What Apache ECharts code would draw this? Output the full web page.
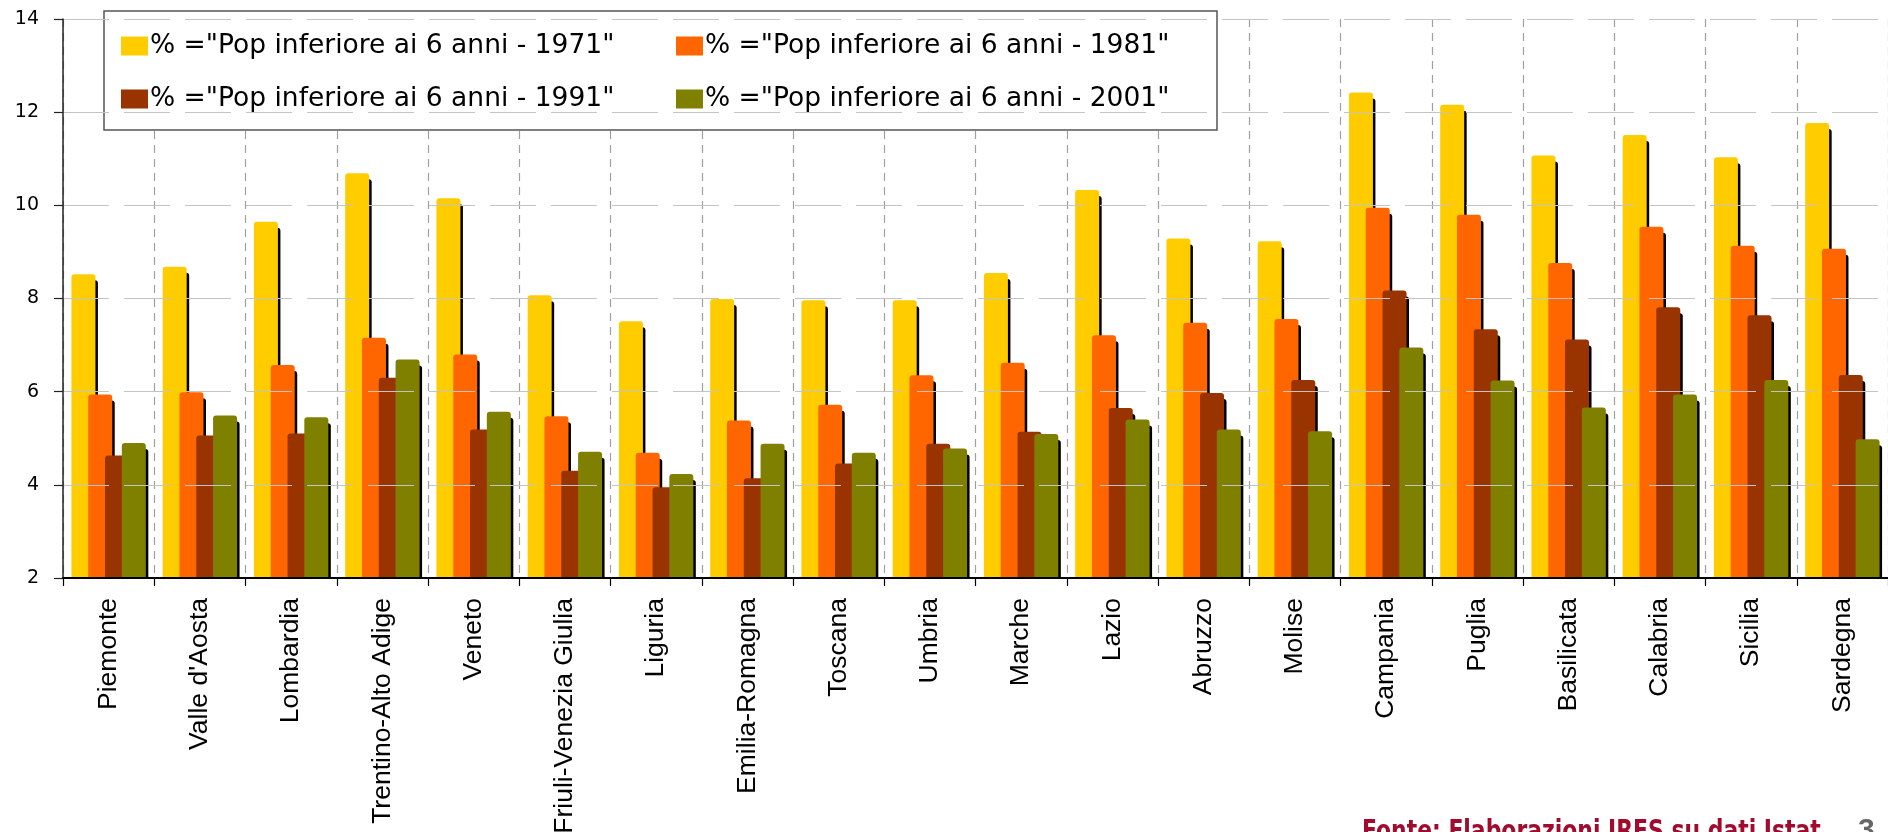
<!DOCTYPE html>
<html>
<head>
<meta charset="utf-8">
<script src="https://cdn.jsdelivr.net/npm/echarts@6/dist/echarts.min.js"></script>
<style>
html,body{margin:0;padding:0;background:#fff;}
#c{width:1888px;height:832px;}
</style>
</head>
<body>
<div id="c"></div>
<script>
const categories = ['Piemonte', "Valle d'Aosta", 'Lombardia', 'Trentino-Alto Adige', 'Veneto', 'Friuli-Venezia Giulia', 'Liguria', 'Emilia-Romagna', 'Toscana', 'Umbria', 'Marche', 'Lazio', 'Abruzzo', 'Molise', 'Campania', 'Puglia', 'Basilicata', 'Calabria', 'Sicilia', 'Sardegna'];
const seriesNames = ['% ="Pop inferiore ai 6 anni - 1971"', '% ="Pop inferiore ai 6 anni - 1981"', '% ="Pop inferiore ai 6 anni - 1991"', '% ="Pop inferiore ai 6 anni - 2001"'];
const v1971 = [8.52, 8.68, 9.65, 10.69, 10.15, 8.07, 7.51, 7.99, 7.96, 7.96, 8.55, 10.33, 9.29, 9.23, 12.42, 12.16, 11.07, 11.51, 11.03, 11.77];
const v1981 = [5.94, 5.99, 6.57, 7.16, 6.80, 5.47, 4.69, 5.38, 5.72, 6.35, 6.62, 7.21, 7.48, 7.56, 9.95, 9.80, 8.76, 9.54, 9.13, 9.07];
const v1991 = [4.63, 5.06, 5.10, 6.30, 5.19, 4.30, 3.95, 4.14, 4.46, 4.88, 5.14, 5.65, 5.97, 6.25, 8.17, 7.34, 7.12, 7.81, 7.64, 6.36];
const v2001 = [4.90, 5.49, 5.45, 6.69, 5.57, 4.71, 4.23, 4.88, 4.69, 4.78, 5.09, 5.40, 5.19, 5.15, 6.95, 6.24, 5.66, 5.94, 6.25, 4.98];
const yTicks = {min: 2, max: 14, interval: 2};
const sourceText = 'Fonte: Elaborazioni IRES su dati Istat';
const pageNumber = '3';

const colors = ['#FFCC00', '#FF6600', '#993300', '#808000'];
const values = [v1971, v1981, v1991, v2001];

const chart = echarts.init(document.getElementById('c'), null, {renderer: 'canvas'});

const series = values.map((vals, i) => ({
  name: seriesNames[i],
  type: 'bar',
  xAxisIndex: 0,
  yAxisIndex: 0,
  data: vals,
  barWidth: 24,
  barGap: '-30%',
  itemStyle: {
    color: colors[i],
    borderRadius: [3, 3, 0, 0],
    shadowColor: '#000',
    shadowBlur: 0,
    shadowOffsetX: 2.5,
    shadowOffsetY: 6
  },
  emphasis: {disabled: true},
  z: 2
}));

const option = {
  animation: false,
  backgroundColor: '#fff',
  grid: {left: 63, right: 0, top: 19, bottom: 254, containLabel: false, outerBoundsMode: 'none'},
  legend: {
    data: seriesNames,
    left: 104,
    top: 11,
    width: 1088,
    padding: [20, 9, 16, 17],
    itemGap: 23,
    itemWidth: 27,
    itemHeight: 19,
    icon: 'rect',
    backgroundColor: '#fff',
    borderColor: '#555',
    borderWidth: 1.5,
    borderRadius: 0,
    selectedMode: false,
    itemStyle: {shadowColor: 'transparent', shadowBlur: 0, shadowOffsetX: 0, shadowOffsetY: 0, borderRadius: 0},
    textStyle: {fontFamily: 'DejaVu Sans', fontSize: 26.5, color: '#000', width: 503, lineHeight: 30, padding: [0, 0, 0, -3]},
    z: 6
  },
  xAxis: [
    {
      type: 'category',
      data: categories,
      position: 'bottom',
      axisLine: {show: false},
      axisTick: {show: false},
      axisLabel: {show: false},
      splitLine: {show: true, interval: 0, lineStyle: {color: '#a0a0a0', width: 1.2, type: [8, 6]}},
      z: 0
    },
    {
      type: 'category',
      data: categories,
      position: 'bottom',
      gridIndex: 0,
      axisLine: {show: true, lineStyle: {color: '#000', width: 2}},
      axisTick: {show: true, interval: 0, length: 8, lineStyle: {color: '#000', width: 1.2}},
      axisLabel: {
        show: true, interval: 0, rotate: 90, margin: 20,
        fontFamily: 'Liberation Sans', fontSize: 26.5, color: '#000'
      },
      splitLine: {show: false},
      z: 10
    }
  ],
  yAxis: {
    type: 'value',
    min: yTicks.min,
    max: yTicks.max,
    interval: yTicks.interval,
    axisLine: {show: true, lineStyle: {color: '#222', width: 1.5}},
    axisTick: {show: true, length: 9, lineStyle: {color: '#222', width: 1.2}},
    axisLabel: {margin: 24, fontFamily: 'DejaVu Sans', fontSize: 19, color: '#000'},
    splitLine: {show: true, lineStyle: {color: '#c4c4c4', width: 1.2, type: [46, 15]}},
    z: 10
  },
  series: series
};

chart.setOption(option);

// white strip under the axis line hides the shadows' lower overflow
const yBase = chart.convertToPixel({yAxisIndex: 0}, yTicks.min);
chart.setOption({
  graphic: [
    {
      type: 'rect', z: 5, silent: true,
      shape: {x: 58, y: yBase + 1, width: 1888, height: 8},
      style: {fill: '#fff'}
    },
    {
      type: 'text', z: 20, x: 1362, y: 819, scaleX: 0.87,
      style: {text: sourceText, fill: '#A00B2E', font: 'bold 28px "Liberation Sans Narrow", "DejaVu Sans Condensed", "Liberation Sans", sans-serif'}
    },
    {
      type: 'text', z: 20, x: 1858, y: 816,
      style: {text: pageNumber, fill: '#666', font: 'bold 30px "Liberation Sans", sans-serif'}
    }
  ]
});
</script>
</body>
</html>
